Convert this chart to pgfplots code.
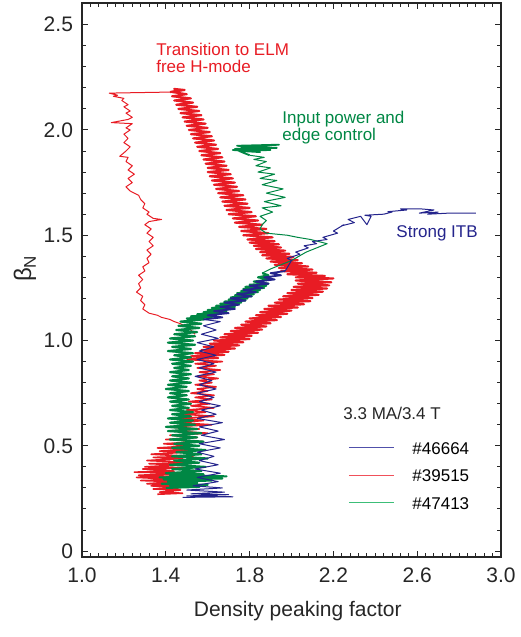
\documentclass[border=0pt]{standalone}
\usepackage{fontspec}
\setmainfont{Liberation Sans}
\usepackage{pgfplots}
\pgfplotsset{compat=1.18}
\definecolor{cred}{RGB}{232,28,36}
\definecolor{cblue}{RGB}{36,36,140}
\definecolor{cgreen}{RGB}{0,135,68}
\definecolor{lred}{RGB}{240,80,90}
\definecolor{lblue}{RGB}{80,80,170}
\definecolor{lgreen}{RGB}{60,190,120}
\begin{document}
\begin{tikzpicture}
\begin{axis}[name=ax, scale only axis, width=209.5pt, height=277pt,
  xmin=1, xmax=3, ymin=-0.028, ymax=2.603,
  axis line style={black!85, line width=0.6pt},
  tick style={black!85, line width=0.5pt},
  tick align=inside, xtick pos=both, ytick pos=both,
  major tick length=3pt, minor tick length=2pt,
  xtick={1,1.4,1.8,2.2,2.6,3.0}, xticklabels={1.0,1.4,1.8,2.2,2.6,3.0},
  ytick={0,0.5,1,1.5,2,2.5}, yticklabels={0,0.5,1.0,1.5,2.0,2.5},
  minor x tick num=9, minor y tick num=4,
  /pgf/number format/assume math mode=true,
  ticklabel style={font=\fontsize{10.5}{12}\selectfont, text=black!85},
  xticklabel style={yshift=-2pt},
  yticklabel style={xshift=-1pt},
  xlabel={Density peaking factor},
  xlabel style={font=\fontsize{10.5}{12}\selectfont, text=black!85, at={(axis description cs:0.515,0)}, anchor=center, yshift=-27pt},
  ylabel={{\fontsize{12}{12}\selectfont β}\raisebox{-0.45ex}{\fontsize{8.5}{9}\selectfont N}},
  ylabel style={at={(axis description cs:-0.136,0.52)}, anchor=center, text=black!85},
  legend style={at={(axis cs:2.27,0.532)}, anchor=north west, draw=none, fill=none,
    font=\fontsize{8.5}{9}\selectfont, row sep=5.5pt, inner sep=0pt,
    nodes={inner sep=1pt, text height=6.3pt, text depth=0pt},
    /tikz/every odd column/.append style={column sep=8pt}},
  legend image code/.code={\draw[#1] (0pt,0pt) -- (22.5pt,0pt);},
  every axis plot/.append style={line width=0.45pt, line join=round},
]
% ---------------- #39515 (red) : lower band ----------------
\addplot[cred, line width=0.8pt, forget plot] table {
x y
1.36 0.270
1.48 0.275
1.37 0.280
1.47 0.290
1.34 0.295
1.46 0.300
1.33 0.310
1.49 0.315
1.31 0.320
1.45 0.330
1.28 0.335
1.47 0.340
1.26 0.350
1.43 0.355
1.27 0.360
1.50 0.370
1.25 0.375
1.44 0.380
1.29 0.390
1.52 0.395
1.30 0.400
1.47 0.410
1.32 0.415
1.55 0.420
1.31 0.430
1.48 0.440
1.34 0.445
1.53 0.450
1.33 0.460
1.50 0.470
1.37 0.475
1.56 0.480
1.36 0.490
1.52 0.500
1.39 0.510
1.58 0.520
1.40 0.530
1.55 0.540
1.42 0.550
1.60 0.560
1.43 0.570
1.56 0.580
1.41 0.590
1.62 0.600
1.45 0.610
1.58 0.620
1.47 0.630
1.63 0.640
1.49 0.650
1.59 0.660
1.50 0.670
1.63 0.680
1.52 0.690
1.61 0.700
1.51 0.710
1.62 0.720
1.54 0.730
1.63 0.740
1.52 0.750
1.60 0.760
1.55 0.770
1.64 0.780
1.54 0.790
1.62 0.800
1.56 0.810
1.65 0.820
1.55 0.830
1.63 0.840
1.56 0.850
1.66 0.860
1.55 0.870
1.64 0.880
1.54 0.890
1.67 0.900
1.50 0.910
};
% red : up-right and up-left bands
\addplot[cred, line width=1.05pt, forget plot] table {
x y
1.50 0.910
1.65 0.917
1.52 0.925
1.68 0.932
1.54 0.940
1.70 0.947
1.57 0.955
1.73 0.962
1.58 0.970
1.75 0.977
1.61 0.985
1.77 0.992
1.63 1.000
1.80 1.007
1.66 1.015
1.81 1.022
1.68 1.030
1.84 1.037
1.71 1.045
1.86 1.052
1.73 1.060
1.88 1.067
1.76 1.075
1.90 1.082
1.78 1.090
1.93 1.097
1.80 1.105
1.95 1.112
1.83 1.120
1.98 1.127
1.85 1.135
2.00 1.142
1.87 1.150
2.03 1.157
1.89 1.165
2.06 1.172
1.92 1.180
2.09 1.187
1.94 1.195
2.10 1.202
1.96 1.210
2.13 1.217
1.98 1.225
2.15 1.232
2.00 1.240
2.17 1.247
2.01 1.255
2.18 1.262
2.03 1.270
2.19 1.277
2.02 1.285
2.20 1.295
2.02 1.300
2.16 1.307
1.98 1.315
2.12 1.322
1.95 1.330
2.10 1.337
1.94 1.345
2.08 1.352
1.92 1.360
2.05 1.367
1.90 1.375
2.03 1.382
1.88 1.390
2.01 1.397
1.86 1.405
1.99 1.412
1.85 1.420
1.97 1.427
1.83 1.435
1.95 1.442
1.82 1.450
1.94 1.457
1.80 1.465
1.92 1.472
1.79 1.480
1.91 1.490
1.77 1.500
1.89 1.510
1.76 1.520
1.88 1.530
1.75 1.540
1.86 1.550
1.73 1.560
1.84 1.570
1.72 1.580
1.83 1.590
1.70 1.600
1.81 1.610
1.69 1.620
1.80 1.630
1.68 1.640
1.79 1.650
1.67 1.660
1.78 1.670
1.66 1.680
1.77 1.690
1.65 1.700
1.75 1.710
1.64 1.720
1.74 1.730
1.63 1.740
1.73 1.750
1.62 1.760
1.72 1.770
1.61 1.780
1.71 1.790
1.60 1.800
1.70 1.810
1.60 1.820
1.69 1.830
1.59 1.840
1.68 1.850
1.58 1.860
1.67 1.870
1.57 1.880
1.66 1.890
1.56 1.900
1.65 1.910
1.55 1.920
1.64 1.930
1.54 1.940
1.63 1.950
1.53 1.960
1.62 1.970
1.52 1.980
1.61 1.990
1.51 2.000
1.60 2.010
1.50 2.020
1.59 2.030
1.49 2.040
1.58 2.050
1.48 2.060
1.57 2.070
1.47 2.080
1.56 2.090
1.46 2.100
1.55 2.110
1.45 2.120
1.53 2.130
1.44 2.140
1.52 2.150
1.43 2.160
1.50 2.170
1.43 2.180
1.49 2.190
1.44 2.195
1.47 2.190
1.42 2.180
};
% red : jump and thin descent
\addplot[cred, line width=0.5pt, forget plot] table {
x y
1.42 2.180
1.13 2.175
1.17 2.165
1.15 2.160
1.20 2.150
1.19 2.140
1.22 2.120
1.20 2.110
1.23 2.090
1.21 2.080
1.24 2.060
1.22 2.050
1.14 2.035
1.24 2.030
1.21 2.010
1.23 2.000
1.20 1.980
1.22 1.960
1.20 1.940
1.23 1.920
1.21 1.900
1.18 1.875
1.22 1.870
1.21 1.850
1.24 1.830
1.22 1.810
1.25 1.790
1.22 1.770
1.24 1.750
1.21 1.730
1.23 1.710
1.27 1.690
1.28 1.670
1.30 1.650
1.29 1.630
1.32 1.610
1.31 1.600
1.34 1.580
1.38 1.575
1.32 1.565
1.30 1.550
1.33 1.530
1.31 1.510
1.34 1.490
1.32 1.470
1.34 1.450
1.31 1.430
1.33 1.410
1.31 1.390
1.32 1.370
1.29 1.350
1.30 1.330
1.27 1.310
1.29 1.290
1.27 1.270
1.28 1.250
1.26 1.230
1.29 1.210
1.28 1.190
1.30 1.170
1.29 1.150
1.32 1.130
1.36 1.120
1.38 1.110
1.42 1.100
1.44 1.090
1.47 1.080
1.49 1.070
1.52 1.050
1.54 1.030
};
% ---------------- #47413 (green) : band ----------------
\addplot[cgreen, line width=1.05pt, forget plot] table {
x y
1.40 0.300
1.56 0.305
1.42 0.310
1.60 0.315
1.38 0.320
1.55 0.325
1.41 0.330
1.62 0.335
1.39 0.340
1.67 0.345
1.37 0.350
1.69 0.355
1.42 0.360
1.58 0.365
1.40 0.370
1.57 0.380
1.43 0.390
1.59 0.400
1.42 0.410
1.56 0.420
1.44 0.430
1.60 0.440
1.43 0.450
1.57 0.460
1.45 0.470
1.59 0.480
1.43 0.490
1.56 0.500
1.44 0.510
1.58 0.520
1.42 0.530
1.55 0.540
1.43 0.550
1.57 0.560
1.41 0.570
1.55 0.580
1.40 0.590
1.54 0.600
1.42 0.610
1.53 0.620
1.41 0.630
1.52 0.640
1.43 0.650
1.53 0.660
1.42 0.670
1.51 0.680
1.43 0.690
1.52 0.700
1.42 0.710
1.51 0.720
1.41 0.730
1.50 0.740
1.42 0.750
1.51 0.760
1.40 0.770
1.50 0.780
1.41 0.790
1.52 0.800
1.42 0.810
1.51 0.820
1.43 0.830
1.52 0.840
1.42 0.850
1.51 0.860
1.44 0.870
1.52 0.880
1.43 0.890
1.53 0.900
1.42 0.910
1.52 0.920
1.44 0.930
1.53 0.940
1.41 0.950
1.52 0.960
1.43 0.970
1.54 0.980
1.41 0.990
1.53 1.000
1.42 1.010
1.54 1.020
1.44 1.030
1.55 1.040
1.45 1.050
1.56 1.060
1.46 1.070
1.57 1.080
1.47 1.090
1.58 1.100
1.50 1.105
1.62 1.110
1.52 1.115
1.64 1.120
1.55 1.125
1.67 1.130
1.58 1.135
1.69 1.140
1.60 1.145
1.71 1.150
1.62 1.155
1.73 1.160
1.64 1.165
1.74 1.170
1.66 1.175
1.76 1.180
1.68 1.185
1.78 1.190
1.70 1.195
1.79 1.200
1.71 1.205
1.81 1.210
1.73 1.215
1.82 1.220
1.74 1.225
1.84 1.230
1.76 1.235
1.85 1.240
1.77 1.245
1.87 1.250
1.78 1.255
1.88 1.260
1.80 1.265
1.89 1.270
1.82 1.280
1.90 1.290
1.84 1.300
1.89 1.310
1.86 1.320
};
% green : thin part
\addplot[cgreen, line width=0.5pt, forget plot] table {
x y
1.86 1.320
1.90 1.340
1.95 1.360
2.00 1.380
2.07 1.420
2.12 1.440
2.17 1.460
2.13 1.470
2.09 1.480
2.03 1.490
1.98 1.500
1.93 1.505
1.88 1.510
1.85 1.530
1.86 1.550
1.88 1.570
1.85 1.590
1.91 1.610
1.86 1.630
1.95 1.640
1.87 1.660
1.97 1.680
1.88 1.700
1.96 1.720
1.86 1.740
1.93 1.760
1.85 1.770
1.92 1.790
1.84 1.800
1.90 1.820
1.83 1.830
1.88 1.850
1.82 1.860
1.87 1.870
1.80 1.880
};
% green : top cluster
\addplot[cgreen, line width=0.9pt, forget plot] table {
x y
1.80 1.880
1.75 1.900
1.90 1.905
1.73 1.910
1.93 1.915
1.76 1.920
1.94 1.930
1.74 1.925
1.88 1.915
1.72 1.905
1.85 1.895
1.76 1.900
1.84 1.920
};
% ---------------- #46664 (blue) : lower thin ----------------
\addplot[cblue, line width=0.5pt, forget plot] table {
x y
1.48 0.255
1.72 0.258
1.50 0.262
1.70 0.268
1.52 0.272
1.68 0.280
1.50 0.290
1.67 0.300
1.53 0.310
1.65 0.330
1.55 0.350
1.66 0.370
1.54 0.390
1.65 0.410
1.56 0.430
1.63 0.450
1.55 0.470
1.66 0.490
1.56 0.510
1.68 0.530
1.57 0.550
1.65 0.570
1.56 0.590
1.67 0.610
1.55 0.630
1.64 0.650
1.57 0.670
1.66 0.690
1.56 0.710
1.63 0.730
1.55 0.750
1.64 0.770
1.56 0.790
1.62 0.810
1.54 0.830
1.64 0.850
1.56 0.870
1.63 0.890
1.55 0.910
1.64 0.930
1.56 0.950
1.63 0.970
1.55 0.990
1.65 1.010
1.57 1.030
1.64 1.050
1.58 1.070
1.66 1.090
1.58 1.100
};
% blue : band
\addplot[cblue, line width=0.9pt, forget plot] table {
x y
1.58 1.100
1.67 1.110
1.60 1.120
1.70 1.130
1.63 1.140
1.73 1.150
1.66 1.160
1.75 1.170
1.68 1.180
1.78 1.190
1.71 1.200
1.81 1.210
1.74 1.220
1.83 1.230
1.77 1.240
1.86 1.250
1.80 1.260
1.89 1.270
1.83 1.280
1.92 1.290
1.87 1.300
1.95 1.310
1.90 1.320
1.97 1.330
};
% blue : thin to the right
\addplot[cblue, line width=0.5pt, forget plot] table {
x y
1.97 1.330
2.00 1.380
1.98 1.390
2.04 1.410
2.02 1.420
2.08 1.440
2.06 1.450
2.12 1.460
2.10 1.470
2.17 1.480
2.15 1.490
2.22 1.510
2.20 1.520
2.25 1.550
2.24 1.545
2.30 1.560
2.27 1.575
2.33 1.590
2.36 1.550
2.38 1.590
2.35 1.595
2.44 1.600
2.48 1.610
2.46 1.612
2.55 1.620
2.52 1.625
2.58 1.625
2.62 1.625
2.68 1.620
2.61 1.605
2.70 1.610
2.65 1.600
2.75 1.605
2.88 1.605
};
% legend
\addlegendimage{lblue, line width=0.5pt}
\addlegendentry{\#46664}
\addlegendimage{lred, line width=0.5pt}
\addlegendentry{\#39515}
\addlegendimage{lgreen, line width=0.5pt}
\addlegendentry{\#47413}
% annotations
\node[anchor=west, align=left, text=cred, font=\fontsize{8.5}{8.5}\selectfont, inner sep=0pt] at (axis cs:1.353,2.342) {Transition to ELM\\free H-mode};
\node[anchor=west, align=left, text=cgreen, font=\fontsize{8.5}{8.5}\selectfont, inner sep=0pt] at (axis cs:1.955,2.01) {Input power and\\edge control};
\node[anchor=west, text=cblue, font=\fontsize{8.5}{9}\selectfont, inner sep=0pt] at (axis cs:2.499,1.51) {Strong ITB};
\node[anchor=west, text=black!85, font=\fontsize{8.5}{9}\selectfont, inner sep=0pt] at (axis cs:2.246,0.656) {3.3 MA/3.4 T};
\end{axis}
\pgfresetboundingbox
\path ([xshift=-41pt,yshift=-40pt]ax.south west) rectangle ([xshift=9.5pt,yshift=1.5pt]ax.north east);
\end{tikzpicture}
\end{document}
